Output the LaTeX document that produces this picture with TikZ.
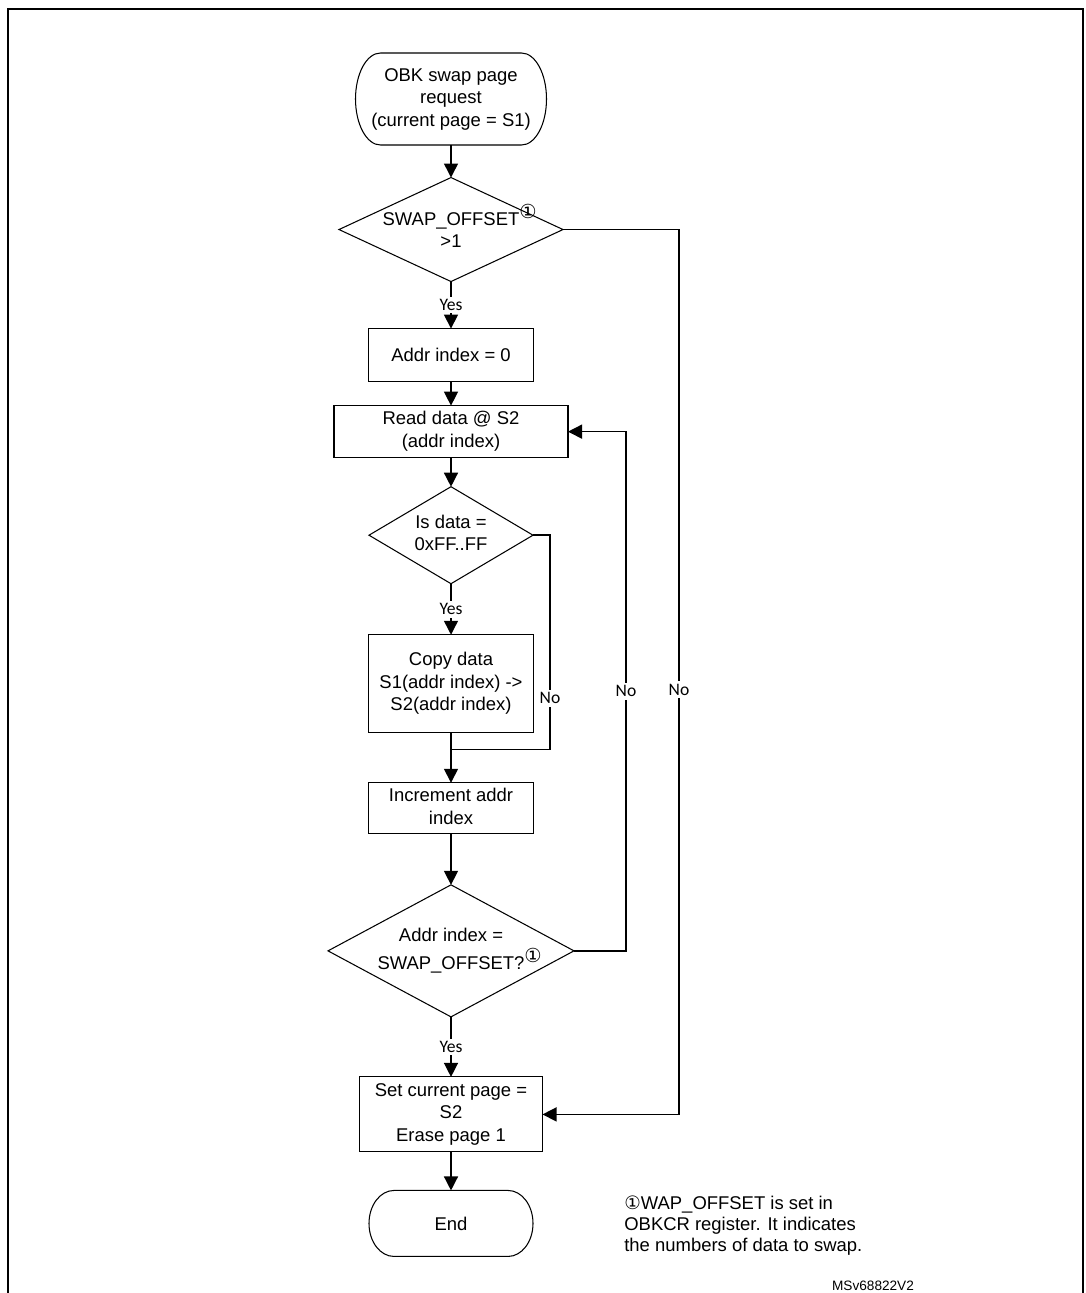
\documentclass[tikz,border=0pt]{standalone}
\usepackage{fontspec}
\setmainfont{Liberation Sans}
\newfontfamily\labelfont{Carlito}
\newfontfamily\symfont{DejaVu Sans}
\usepackage{tikz}
\usetikzlibrary{matrix,arrows.meta,shapes.geometric,calc}
\newcommand{\circone}{\rlap{\raisebox{3.6pt}{\symfont\fontsize{11}{11}\selectfont ①}}}
\newcommand{\cellstack}[1]{\begin{tabular}{@{}c@{}}#1\end{tabular}}
\tikzset{
  termbox/.style={rectangle,inner sep=0pt},
  procbox/.style={draw,rectangle,inner sep=0pt},
  testbox/.style={draw,diamond,inner sep=-2pt},
  answer/.style={fill=white,inner sep=1.5pt,font=\labelfont\fontsize{10}{12}\selectfont},
  flow/.style={line width=0.8pt,-{Triangle[width=0.28cm,length=0.28cm]}},
}

\begin{document}
\begin{tikzpicture}
\fontsize{10.5}{12.8}\selectfont
\useasboundingbox (0,0) rectangle (21.7,-25.86);
% frame
\draw[line width=1.2pt] (0.16,-25.86) -- (0.16,-0.18) -- (21.66,-0.18) -- (21.66,-25.86);
\matrix (m) [matrix of nodes,anchor=north,inner sep=0pt,outer sep=0pt,row sep=0pt,
  nodes={anchor=center,line width=0.6pt,outer sep=0pt}] at (9.02,-1.06)
  {
    |[termbox,minimum width=3.82cm,minimum height=1.84cm]| \cellstack{OBK swap page\\request\\(current page = S1)} \\[0.64cm] %m-1
    |[testbox,shape aspect=2.15,minimum width=4.48cm,minimum height=2.08cm]| \cellstack{SWAP\_OFFSET\circone\\>1} \\[0.92cm] %m-2
    |[procbox,minimum width=3.30cm,minimum height=1.06cm]| Addr index = 0 \\[0.46cm] %m-3
    |[procbox,minimum width=4.68cm,minimum height=1.04cm]| \cellstack{Read data @ S2\\(addr index)} \\[0.56cm] %m-4
    |[testbox,shape aspect=1.69,minimum width=3.28cm,minimum height=1.94cm]| \cellstack{Is data =\\0xFF..FF} \\[1.00cm] %m-5
    |[procbox,minimum width=3.30cm,minimum height=1.96cm]| \cellstack{Copy data\\S1(addr index) ->\\S2(addr index)} \\[0.98cm] %m-6
    |[procbox,minimum width=3.30cm,minimum height=1.02cm]| \cellstack{Increment addr\\index} \\[1.00cm] %m-7
    |[testbox,shape aspect=1.86,minimum width=4.92cm,minimum height=2.64cm]| \cellstack{Addr index =\\SWAP\_OFFSET?\circone} \\[1.18cm] %m-8
    |[procbox,minimum width=3.66cm,minimum height=1.50cm]| \cellstack{Set current page =\\S2\\Erase page 1} \\[0.76cm] %m-9
    |[termbox,minimum width=3.28cm,minimum height=1.32cm]| End \\ %m-10
  };
  % terminal outlines with flat elliptic ends
  \foreach \t/\ry in {m-1-1/0.92,m-10-1/0.66}
    \draw[line width=0.6pt] ($(\t.north west)+(0.5,0)$) -- ($(\t.north east)+(-0.5,0)$)
      arc[start angle=90,end angle=-90,x radius=0.5,y radius=\ry]
      -- ($(\t.south west)+(0.5,0)$)
      arc[start angle=270,end angle=90,x radius=0.5,y radius=\ry];
  \coordinate (join) at ($(m-6-1.south)!0.34!(m-7-1.north)$);
  \path[flow]
          (m-1-1) edge (m-2-1)
          (m-2-1) edge node [answer] {Yes} (m-3-1)
          (m-3-1) edge (m-4-1)
          (m-4-1) edge (m-5-1)
          (m-5-1) edge node [answer] {Yes} (m-6-1)
          (m-6-1) edge (m-7-1)
          (m-7-1) edge (m-8-1)
          (m-8-1) edge node [answer] {Yes} (m-9-1)
          (m-9-1) edge (m-10-1);
  % no branches
  \draw[flow] (m-2-1.east) -- ++(2.32,0) |- node [answer,pos=0.26] {No} (m-9-1.east);
  \draw[flow] (m-8-1.east) -- ++(1.04,0) |- node [answer,pos=0.25] {No} (m-4-1.east);
  \draw[flow,-] (m-5-1.east) -- ++(0.34,0) |- node [answer,pos=0.38] {No} (join);
  % footnote
  \node [anchor=north west,align=left,inner sep=0pt,font=\fontsize{10.5}{11.9}\selectfont] (note) at (12.48,-23.92)
    {{\symfont ①}WAP\_OFFSET is set in\\OBKCR register. It indicates\\the numbers of data to swap.};
  \node [font=\fontsize{7.75}{9}\selectfont] (ref) at (17.46,-25.72) {MSv68822V2};
\end{tikzpicture}
\end{document}
